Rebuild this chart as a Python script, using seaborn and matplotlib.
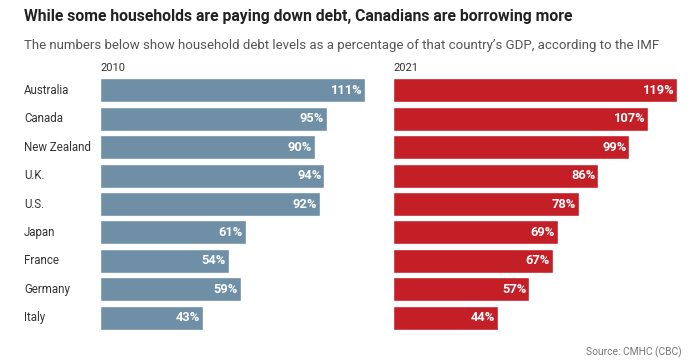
import numpy as np
import pandas as pd
import seaborn as sns
import matplotlib.pyplot as plt
import matplotlib.transforms as mtransforms

countries = ['Australia', 'Canada', 'New Zealand', 'U.K.', 'U.S.', 'Japan', 'France', 'Germany', 'Italy']
debt_2010 = [111, 95, 90, 94, 92, 61, 54, 59, 43]
debt_2021 = [119, 107, 99, 86, 78, 69, 67, 57, 44]

df = pd.DataFrame({'country': countries, '2010': debt_2010, '2021': debt_2021})

sns.set_theme(style='white')
plt.rcParams['font.family'] = ['Roboto', 'DejaVu Sans']

W, H = 700, 360
fig = plt.figure(figsize=(7, 3.6), dpi=100)

px_per_unit = 2.387
top, bottom = 76, 332
panels = [('2010', '#6e8fa6', 100, 380), ('2021', '#c41f27', 393, 686)]

for year, col, x0, x1 in panels:
    ax = fig.add_axes([x0 / W, 1 - bottom / H, (x1 - x0) / W, (bottom - top) / H])
    sns.barplot(data=df, y='country', x=year, color=col, width=0.84,
                saturation=1, ax=ax, orient='h')
    ax.set_xlim(0, (x1 - x0) / px_per_unit)
    ax.set_xlabel('')
    ax.set_ylabel('')
    ax.set_xticks([])
    ax.set_yticks([])
    sns.despine(ax=ax, left=True, bottom=True)
    for i, v in enumerate(df[year]):
        ax.text(v - 1.2, i, f'{v}%', color='white', fontsize=9.3, fontweight='bold',
                ha='right', va='center')
    ax.text(0, 1.01, year, transform=ax.transAxes, fontsize=8, color='#333333',
            ha='left', va='bottom')
    if year == '2010':
        trans = mtransforms.blended_transform_factory(fig.transFigure, ax.transData)
        for i, c in enumerate(countries):
            ax.text(24 / W, i, c, transform=trans, fontsize=8.3, color='#333333',
                    ha='left', va='center')

fig.text(24 / W, 1 - 17 / H, 'While some households are paying down debt, Canadians are borrowing more',
         fontsize=11.3, fontweight='bold', color='#222222', ha='left', va='center')
fig.text(24 / W, 1 - 45 / H, "The numbers below show household debt levels as a percentage of that country\u2019s GDP, according to the IMF",
         fontsize=9.5, color='#555555', ha='left', va='center')
fig.text(682 / W, 1 - 352 / H, 'Source: CMHC (CBC)', fontsize=7.4, color='#777777',
         ha='right', va='center')

fig.savefig('out.png', dpi=100)
